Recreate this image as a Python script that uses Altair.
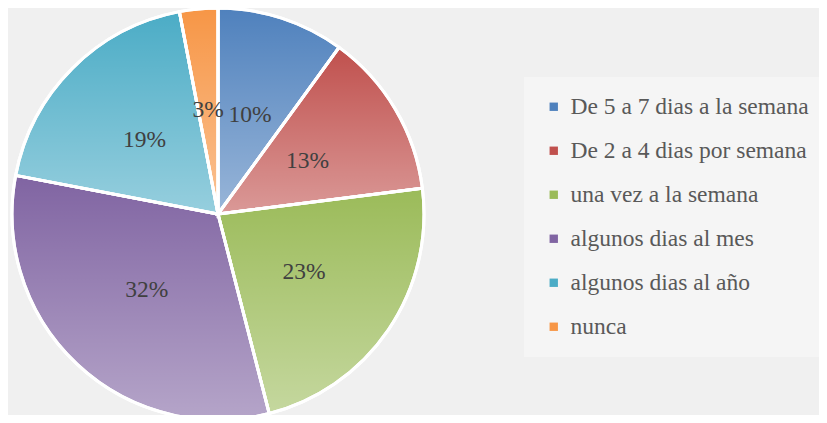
import altair as alt
import pandas as pd

categories = ["De 5 a 7 dias a la semana", "De 2 a 4 dias por semana", "una vez a la semana",
              "algunos dias al mes", "algunos dias al año", "nunca"]
values = [10, 13, 23, 32, 19, 3]
labels = ["10%", "13%", "23%", "32%", "19%", "3%"]
colors = ["#4F81BD", "#C0504D", "#9BBB59", "#8064A2", "#4BACC6", "#F79646"]

df = pd.DataFrame({"cat": categories, "value": values, "label": labels, "idx": list(range(len(values)))})
total = sum(values)

CX, CY, R = 210, 206, 206

base = alt.Chart(df).transform_window(
    cum="sum(value)", sort=[alt.SortField("idx")], frame=[None, 0]
).transform_calculate(
    start="datum.cum - datum.value", mid="datum.cum - datum.value / 2"
)

theta_scale = alt.Scale(domain=[0, total])

solid = base.mark_arc(stroke="white", strokeWidth=3, radius=R).encode(
    x=alt.value(CX), y=alt.value(CY),
    theta=alt.Theta("start:Q", scale=theta_scale),
    theta2="cum:Q",
    color=alt.Color("cat:N", scale=alt.Scale(domain=categories, range=colors), sort=None,
                    legend=alt.Legend(title=None, orient="none", legendX=516, legendY=69,
                                      symbolType="square", symbolSize=70, symbolStrokeWidth=0,
                                      labelFont="Liberation Serif", labelFontSize=23.5,
                                      labelColor="#595959", rowPadding=19, labelLimit=400,
                                      labelOffset=5,
                                      fillColor="rgba(255,255,255,0.35)", padding=18, offset=0)),
)

grad = alt.LinearGradient(
    gradient="linear", x1=0, y1=0, x2=0, y2=1,
    stops=[alt.GradientStop(offset=0, color="rgba(255,255,255,0)"),
           alt.GradientStop(offset=1, color="rgba(255,255,255,0.42)")],
)

overlay = base.mark_arc(fill=grad, stroke="white", strokeWidth=3, radius=R).encode(
    x=alt.value(CX), y=alt.value(CY),
    theta=alt.Theta("start:Q", scale=theta_scale),
    theta2="cum:Q",
)

text = base.mark_text(font="Liberation Serif", fontSize=23.5, color="#404040", radius=104).encode(
    x=alt.value(CX), y=alt.value(CY),
    theta=alt.Theta("mid:Q", scale=theta_scale),
    text="label:N",
)

chart = alt.layer(solid, overlay, text).properties(
    width=811, height=407, padding=0, autosize=alt.AutoSizeParams(type="none"),
    background="#f0f0f0",
).configure_view(stroke=None)

chart.save("out.html", embed_options={"renderer": "svg", "actions": False})
